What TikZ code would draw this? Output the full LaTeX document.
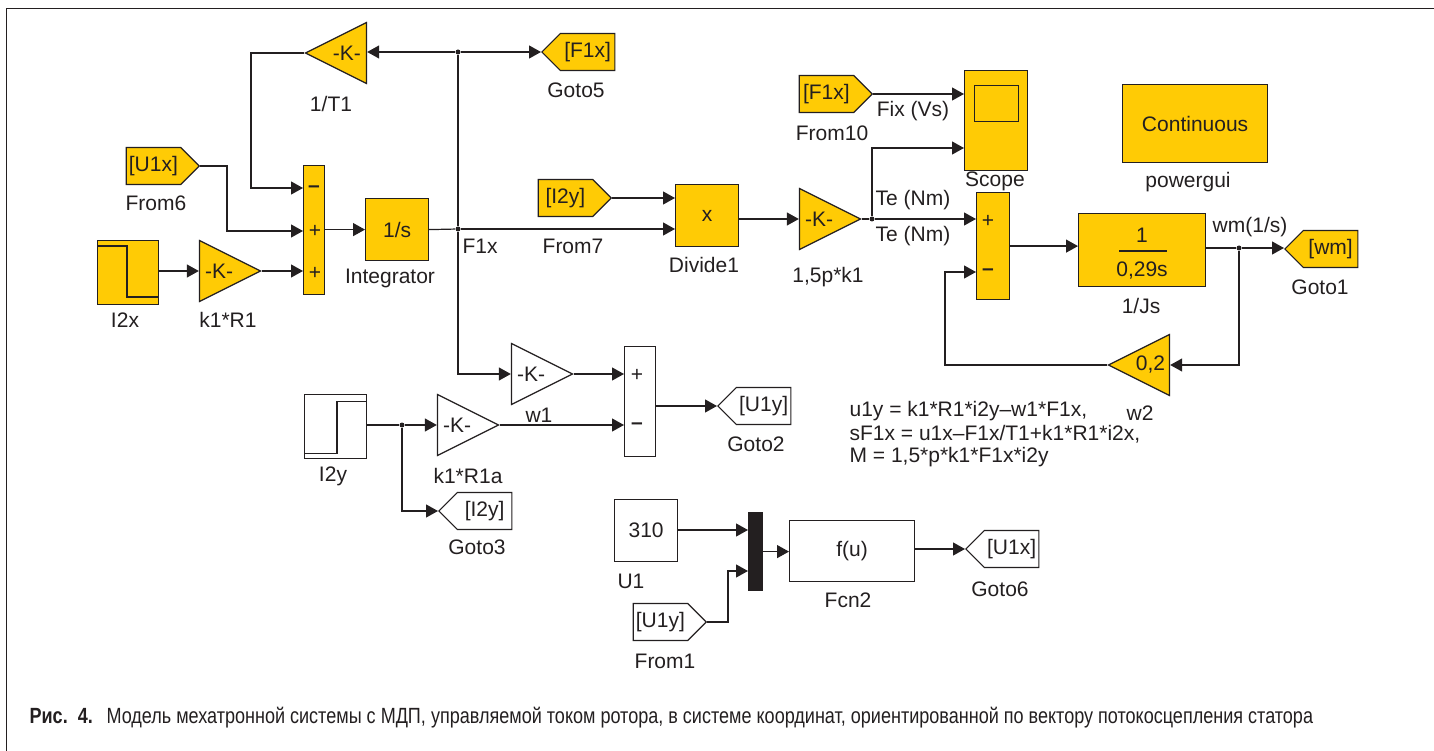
\documentclass[tikz,border=0pt]{standalone}
\usepackage{fontspec}
\usepackage{tikz}
\usetikzlibrary{arrows.meta,shapes.geometric,shapes.symbols}
\setmainfont{Liberation Sans}
\newfontfamily\captionfont[FakeStretch=0.82]{Liberation Sans}
\definecolor{blockyellow}{RGB}{255,203,5}
\definecolor{inkdark}{RGB}{35,31,32}
\newcommand{\blocktextsize}{\fontsize{21}{24}\selectfont}

\begin{document}
\begin{tikzpicture}[x=1pt,y=-1pt,line width=1.2pt,draw=inkdark,text=inkdark,
	>={Triangle[length=12pt,width=13pt]},
	every node/.style={font=\blocktextsize,inner sep=0pt},
	block/.style={draw,rectangle,anchor=north west},
	gainr/.style={draw,isosceles triangle,isosceles triangle stretches,minimum width=61pt,minimum height=61pt,anchor=apex},
	gainl/.style={gainr,shape border rotate=180},
	tagr/.style={draw,signal,signal to=east,signal pointer angle=90,minimum width=73pt,minimum height=37pt,anchor=east},
	tagl/.style={draw,signal,signal to=west,signal pointer angle=90,minimum width=73pt,minimum height=37pt,anchor=west},
	dotj/.style={circle,fill=inkdark,minimum size=5pt}]
	\useasboundingbox (0,0) rectangle (1434,751);
	\node[draw,rectangle,minimum width=1500pt,minimum height=800pt,anchor=north west,line width=1pt] (Frame) at (6,8) {};
	\begin{scope}[fill=blockyellow]
	\node[gainl,fill=blockyellow] (Gain_T1) at (304,53) {-K-};
	\node[tagl,fill=blockyellow] (Goto_5) at (541,52) {[F1x]};
	\node[tagr,fill=blockyellow] (From_6) at (200,166) {[U1x]};
	\node[block,fill=blockyellow,minimum width=21pt,minimum height=129pt] (Sum_1) at (303,165) {};
	\node[block,fill=blockyellow,minimum width=61pt,minimum height=64pt] (Step_x) at (97,240) {};
	\node[gainr,fill=blockyellow] (Gain_kR) at (262,271) {-K-};
	\node[block,fill=blockyellow,minimum width=63pt,minimum height=62pt] (Integ) at (365,198) {1/s};
	\node[tagr,fill=blockyellow] (From_7) at (612,198) {[I2y]};
	\node[block,fill=blockyellow,minimum width=63pt,minimum height=62pt] (Divide) at (675,184) {x};
	\node[gainr,fill=blockyellow] (Gain_p) at (862,219) {-K-};
	\node[tagr,fill=blockyellow] (From_10) at (873,94) {[F1x]};
	\node[block,fill=blockyellow,minimum width=63pt,minimum height=100pt] (Scope) at (964,70) {};
	\node[block,fill=blockyellow,minimum width=145pt,minimum height=78pt] (Gui) at (1122,84) {Continuous};
	\node[block,fill=blockyellow,minimum width=33pt,minimum height=107pt] (Sum_2) at (976,192) {};
	\node[block,fill=blockyellow,minimum width=127pt,minimum height=73pt] (Js) at (1078,213) {};
	\node[tagl,fill=blockyellow] (Goto_1) at (1284,249) {[wm]};
	\node[gainl,fill=blockyellow] (Gain_w2) at (1107,365) {0,2};
	\end{scope}
	\node[gainr] (Gain_w1) at (574,374) {-K-};
	\node[block,minimum width=31pt,minimum height=110pt] (Sum_3) at (624,346) {};
	\node[block,minimum width=62pt,minimum height=64pt] (Step_y) at (304,394) {};
	\node[gainr] (Gain_Ra) at (500,425) {-K-};
	\node[tagl] (Goto_3) at (438,511) {[I2y]};
	\node[tagl] (Goto_2) at (717,406) {[U1y]};
	\node[block,minimum width=63pt,minimum height=62pt] (Const) at (614,499) {310};
	\node[block,fill=inkdark,minimum width=14pt,minimum height=78pt] (Mux) at (748,512) {};
	\node[block,minimum width=125pt,minimum height=61pt] (Fcn) at (789,520) {f(u)};
	\node[tagl] (Goto_6) at (965,549) {[U1x]};
	\node[tagr] (From_1) at (707,622) {[U1y]};
	\node[dotj] (J_1) at (458,52) {};
	\node[dotj] (J_2) at (458,229) {};
	\node[dotj] (J_3) at (872,219) {};
	\node[dotj] (J_4) at (1239,248) {};
	\node[dotj] (J_5) at (402,425) {};
	\coordinate (Sum_1_a) at (303,188);
	\coordinate (Sum_1_b) at (303,231);
	\coordinate (Sum_1_c) at (303,271);
	\coordinate (Sum_2_a) at (976,219);
	\coordinate (Sum_2_b) at (976,272);
	\coordinate (Sum_3_a) at (624,374);
	\coordinate (Sum_3_b) at (624,425);
	\coordinate (Scope_a) at (964,94);
	\coordinate (Scope_b) at (964,148);
	\coordinate (Mux_a) at (748,530);
	\coordinate (Mux_b) at (748,571);
	\coordinate (Divide_a) at (675,198);
	\coordinate (Divide_b) at (675,229);
	\draw [->] (J_1) -- (Gain_T1.east |- J_1);
	\draw [->] (J_1) -- (Goto_5.west);
	\draw [->] (Gain_T1.apex) -- (251,53) |- (Sum_1_a);
	\draw [->] (From_6.east) -- ++(27,0) |- (Sum_1_b);
	\draw [->] (Step_x.east |- Gain_kR.lower side) -- (Gain_kR.lower side);
	\draw [->] (Gain_kR.apex) -- (Sum_1_c);
	\draw [->] (Sum_1.east |- Integ.west) -- (Integ.west);
	\draw (Integ.east) -- (J_2);
	\draw [->] (J_2) -- (Divide_b);
	\draw (J_1) -- (J_2);
	\draw [->] (J_2) |- (Gain_w1.lower side);
	\draw [->] (From_7.east) -- (Divide_a);
	\draw [->] (Divide.east |- Gain_p.lower side) -- (Gain_p.lower side);
	\draw (Gain_p.apex) -- (J_3);
	\draw [->] (J_3) -- (Sum_2_a);
	\draw [->] (J_3) |- (Scope_b);
	\draw [->] (From_10.east) -- (Scope_a);
	\draw [->] (Sum_2.east) -- (Js.west |- Sum_2.east);
	\draw (Js.east |- J_4) -- (J_4);
	\draw [->] (J_4) -- (Goto_1.west |- J_4);
	\draw [->] (J_4) |- (Gain_w2.lower side);
	\draw [->] (Gain_w2.apex) -- (945,365) |- (Sum_2_b);
	\draw [->] (Gain_w1.apex) -- (Sum_3_a);
	\draw (Step_y.east |- J_5) -- (J_5);
	\draw [->] (J_5) -- (Gain_Ra.lower side);
	\draw [->] (Gain_Ra.apex) -- (Sum_3_b);
	\draw [->] (J_5) |- (Goto_3.west);
	\draw [->] (Sum_3.east |- Goto_2.west) -- (Goto_2.west);
	\draw [->] (Const.east |- Mux_a) -- (Mux_a);
	\draw [->] (From_1.east) -- (728,622) |- (Mux_b);
	\draw [->] (Mux.east) -- (Fcn.west |- Mux.east);
	\draw [->] (Fcn.east |- Goto_6.west) -- (Goto_6.west);
	\draw (Step_x.north west) ++(0,6) -- ++(30,0) -- ++(0,51) -- ++(31,0);
	\draw (Step_y.south west) ++(0,-6) -- ++(33,0) -- ++(0,-52) -- ++(29,0);
	\node[draw,rectangle,minimum width=44pt,minimum height=36pt,anchor=north west] (Scope_s) at (974,85) {};
	\draw (1119,251) -- (1167,251);
	\node (Js_a) at (1142,235) {1};
	\node (Js_b) at (1142,271) {0,29s};
	\node (S_a) at (314,189) {\textbf{–}};
	\node (S_b) at (315,231) {+};
	\node (S_c) at (315,273) {+};
	\node (S_d) at (988,221) {+};
	\node (S_e) at (988,272) {\textbf{–}};
	\node (S_f) at (637,375) {+};
	\node (S_g) at (637,426) {\textbf{–}};
	\node (L_T1) at (331,104) {1/T1};
	\node (L_Goto5) at (576,90) {Goto5};
	\node (L_From6) at (156,203) {From6};
	\node (L_I2x) at (125,320) {I2x};
	\node (L_kR) at (228,320) {k1*R1};
	\node (L_Integ) at (390,278) {Integrator};
	\node (L_F1x) at (480,246) {F1x};
	\node (L_From7) at (573,246) {From7};
	\node (L_Divide) at (704,265) {Divide1};
	\node (L_p) at (828,277) {1,5p*k1};
	\node (L_TeA) at (913,200) {Te (Nm)};
	\node (L_TeB) at (913,236) {Te (Nm)};
	\node (L_Fix) at (913,111) {Fix (Vs)};
	\node (L_From10) at (832,133) {From10};
	\node (L_Scope) at (995,181) {Scope};
	\node (L_Gui) at (1188,182) {powergui};
	\node (L_Js) at (1141,306) {1/Js};
	\node (L_wm) at (1250,227) {wm(1/s)};
	\node (L_Goto1) at (1320,287) {Goto1};
	\node (L_w2) at (1140,413) {w2};
	\node (L_w1) at (539,415) {w1};
	\node (L_I2y) at (333,476) {I2y};
	\node (L_Ra) at (468,476) {k1*R1a};
	\node (L_Goto3) at (477,547) {Goto3};
	\node (L_Goto2) at (756,444) {Goto2};
	\node (L_U1) at (631,581) {U1};
	\node (L_Fcn) at (848,600) {Fcn2};
	\node (L_Goto6) at (1000,589) {Goto6};
	\node (L_From1) at (665,661) {From1};
	\node[anchor=west] (L_Eq1) at (849,411) {u1y = k1*R1*i2y–w1*F1x,};
	\node[anchor=west] (L_Eq2) at (849,434) {sF1x = u1x–F1x/T1+k1*R1*i2x,};
	\node[anchor=west] (L_Eq3) at (849,457) {M = 1,5*p*k1*F1x*i2y};
	\node[anchor=west,font=\captionfont\fontsize{22}{24}\selectfont] (Cap) at (29,718) {\textbf{Рис.\ \ 4.}\ \ \,Модель мехатронной системы с МДП, управляемой током ротора, в системе координат, ориентированной по вектору потокосцепления статора};
\end{tikzpicture}
\end{document}
